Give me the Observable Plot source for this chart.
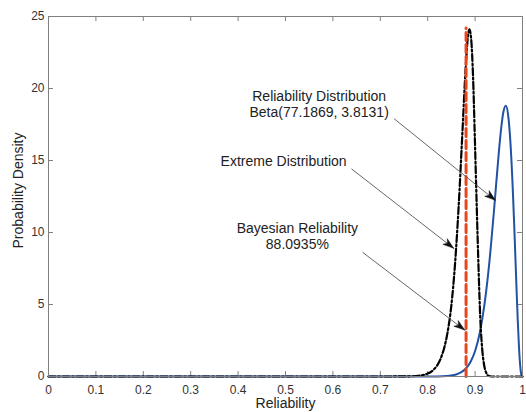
<!DOCTYPE html>
<html>
<head>
<meta charset="utf-8">
<script src="https://cdn.jsdelivr.net/npm/d3@7"></script>
<script src="https://cdn.jsdelivr.net/npm/@observablehq/plot@0.6"></script>
<style>
  html, body { margin: 0; padding: 0; background: #fff; }
  #chart { width: 526px; height: 412px; }
  #chart svg { font-family: "Liberation Sans", Arial, Helvetica, sans-serif; }
</style>
</head>
<body>
<div id="chart"></div>
<script>
// Reliability distribution Beta(77.1869, 3.8131)
const betaX = [0, 0.78, 0.80, 0.82, 0.84, 0.85, 0.86, 0.87, 0.88, 0.89, 0.90, 0.91, 0.92, 0.93, 0.94, 0.95, 0.955, 0.96, 0.965, 0.97, 0.975, 0.98, 0.9825, 0.985, 0.9875, 0.99, 0.9925, 0.995, 0.9975, 1.0];
const betaY = [0, 0, 0.002, 0.008, 0.035, 0.071, 0.143, 0.281, 0.535, 0.99, 1.77, 3.06, 5.06, 7.91, 11.58, 15.55, 17.24, 18.42, 18.8, 18.06, 16.0, 12.61, 10.52, 8.27, 6.01, 3.89, 2.10, 0.81, 0.14, 0];

// Extreme distribution (dash-dot)
const extremeX = [0, 0.70, 0.76, 0.78, 0.796, 0.8115, 0.8268, 0.8345, 0.8421, 0.8498, 0.8574, 0.8651, 0.8727, 0.8804, 0.8842, 0.888, 0.8918, 0.8957, 0.8995, 0.9033, 0.9072, 0.911, 0.915, 0.919, 0.923, 0.928, 0.935, 1.0];
const extremeY = [0, 0, 0.01, 0.05, 0.16, 0.44, 1.2, 1.95, 3.1, 4.9, 7.7, 11.7, 16.6, 21.6, 23.4, 24.1, 23.4, 20.8, 16.5, 12.0, 7.6, 4.0, 1.9, 0.8, 0.3, 0.05, 0, 0];

// Bayesian reliability (dashed vertical)
const bayesX = [0.880935, 0.880935];
const bayesY = [0, 24.2];

// Axis ticks
const xTicks = [0, 0.1, 0.2, 0.3, 0.4, 0.5, 0.6, 0.7, 0.8, 0.9, 1];
const yTicks = [0, 5, 10, 15, 20, 25];

// Annotations (label anchor in data units, arrow start and end in data units)
const annoText = ["Reliability Distribution\nBeta(77.1869, 3.8131)", "Extreme Distribution", "Bayesian Reliability\n88.0935%"];
const annoTextX = [0.571, 0.496, 0.525];
const annoTextY = [18.93, 14.95, 9.79];
const arrowX1 = [0.7292, 0.6392, 0.6625];
const arrowY1 = [17.90, 14.42, 8.63];
const arrowX2 = [0.9440, 0.8560, 0.8792];
const arrowY2 = [12.20, 8.87, 3.19];

const beta = betaX.map((x, i) => ({x, y: betaY[i]}));
const extreme = extremeX.map((x, i) => ({x, y: extremeY[i]}));
const bayes = bayesX.map((x, i) => ({x, y: bayesY[i]}));
const annos = annoText.map((t, i) => ({t, x: annoTextX[i], y: annoTextY[i]}));
const arrows = arrowX1.map((x1, i) => ({x1, y1: arrowY1[i], x2: arrowX2[i], y2: arrowY2[i]}));

const W = 526, H = 412;
const mL = 48, mR = 4, mT = 16, mB = 36;
const innerW = W - mL - mR, innerH = H - mT - mB;
const tickLen = 5;

const plot = Plot.plot({
  width: W,
  height: H,
  marginLeft: mL,
  marginRight: mR,
  marginTop: mT,
  marginBottom: mB,
  x: {domain: [0, 1], label: null},
  y: {domain: [0, 25], label: null},
  style: {fontFamily: '"Liberation Sans", Arial, Helvetica, sans-serif', background: "#fff"},
  marks: [
    // inward ticks on all four sides
    Plot.tickX(xTicks, {x: d => d, insetTop: innerH - tickLen, stroke: "#808080", strokeWidth: 1}),
    Plot.tickX(xTicks, {x: d => d, insetBottom: innerH - tickLen, stroke: "#808080", strokeWidth: 1}),
    Plot.tickY(yTicks, {y: d => d, insetRight: innerW - tickLen, stroke: "#808080", strokeWidth: 1}),
    Plot.tickY(yTicks, {y: d => d, insetLeft: innerW - tickLen, stroke: "#808080", strokeWidth: 1}),
    Plot.axisX(xTicks, {anchor: "bottom", tickSize: 0, tickPadding: 7.5, dy: 1.5, fontSize: 12, color: "#333", label: null, tickFormat: d => String(d)}),
    Plot.axisY(yTicks, {anchor: "left", tickSize: 0, tickPadding: 4, fontSize: 12, color: "#333", label: null, tickFormat: d => String(d)}),
    Plot.text(["Reliability"], {frameAnchor: "bottom", lineAnchor: "middle", textAnchor: "middle", dy: 27.5, fontSize: 14, fill: "#222"}),
    Plot.text(["Probability Density"], {frameAnchor: "left", lineAnchor: "middle", textAnchor: "middle", dx: -30, dy: -6, rotate: -90, fontSize: 14, fill: "#222"}),
    // curves
    Plot.line(beta, {x: "x", y: "y", stroke: "#2152a3", strokeWidth: 2, curve: "monotone-x"}),
    Plot.line(extreme, {x: "x", y: "y", stroke: "#000", strokeWidth: 2.2, strokeDasharray: "7,2.5,2,2.5", curve: "monotone-x"}),
    Plot.line(bayes, {x: "x", y: "y", stroke: "#e8461e", strokeWidth: 3, strokeDasharray: "8,4"}),
    // annotations
    Plot.link(arrows, {x1: "x1", y1: "y1", x2: "x2", y2: "y2", stroke: "#555", strokeWidth: 0.9}),
    Plot.text(annos, {x: "x", y: "y", text: "t", fontSize: 14, fill: "#222", lineHeight: 1.15, textAnchor: "middle"}),
    Plot.frame({stroke: "#808080", strokeWidth: 1})
  ]
});

// filled arrowheads, positioned through the plot's own scales
const sx = plot.scale("x"), sy = plot.scale("y");
const svg = d3.select(plot.tagName.toLowerCase() === "svg" ? plot : plot.querySelector("svg"));
arrows.forEach(a => {
  const x1 = sx.apply(a.x1), y1 = sy.apply(a.y1), x2 = sx.apply(a.x2), y2 = sy.apply(a.y2);
  const ang = Math.atan2(y2 - y1, x2 - x1);
  const L = 11, hw = 3.6, notch = 8;
  const ux = Math.cos(ang), uy = Math.sin(ang);
  const px = -uy, py = ux;
  const bx = x2 - ux * L, by = y2 - uy * L;
  const nx = x2 - ux * notch, ny = y2 - uy * notch;
  const pts = [[x2, y2], [bx + px * hw, by + py * hw], [nx, ny], [bx - px * hw, by - py * hw]];
  svg.append("path")
    .attr("d", "M" + pts.map(p => p.join(",")).join("L") + "Z")
    .attr("fill", "#111")
    .attr("stroke", "#111")
    .attr("stroke-width", 0.5);
});

document.getElementById("chart").appendChild(plot);
</script>
</body>
</html>
